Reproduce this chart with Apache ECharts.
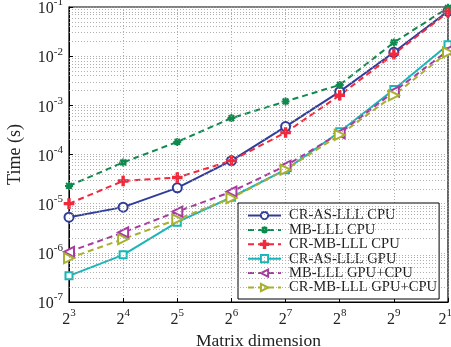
<!DOCTYPE html>
<html>
<head>
<meta charset="utf-8">
<script src="https://cdn.jsdelivr.net/npm/echarts@6/dist/echarts.min.js"></script>
<style>
  html, body { margin: 0; padding: 0; background: #fff; }
  #chart { width: 451px; height: 347px; }
</style>
</head>
<body>
<div id="chart"></div>
<script>
// matrix dimension (2^3 .. 2^10)
const dims = [8, 16, 32, 64, 128, 256, 512, 1024];

// time in seconds
const crAsCpu    = [5.3e-6, 8.5e-6, 2.1e-5, 7.5e-5, 3.7e-4, 1.9e-3, 1.2e-2, 8.2e-2];
const mbCpu      = [2.3e-5, 6.9e-5, 1.8e-4, 5.5e-4, 1.2e-3, 2.6e-3, 1.9e-2, 9.6e-2];
const crMbCpu    = [1.0e-5, 2.9e-5, 3.4e-5, 7.5e-5, 2.8e-4, 1.6e-3, 1.1e-2, 7.8e-2];
const crAsGpu    = [3.4e-7, 9.1e-7, 4.2e-6, 1.35e-5, 4.9e-5, 2.9e-4, 2.1e-3, 1.7e-2];
const mbGpuCpu   = [1.05e-6, 2.6e-6, 6.9e-6, 1.75e-5, 5.9e-5, 2.7e-4, 1.9e-3, 1.3e-2];
const crMbGpuCpu = [7.8e-7, 1.9e-6, 4.8e-6, 1.3e-5, 4.9e-5, 2.5e-4, 1.6e-3, 1.2e-2];

const seriesNames = [
  'CR-AS-LLL CPU', 'MB-LLL CPU', 'CR-MB-LLL CPU',
  'CR-AS-LLL GPU', 'MB-LLL GPU+CPU', 'CR-MB-LLL GPU+CPU'
];

// minor log grid lines (2..9 x 10^k)
const minorDecades = [-7, -6, -5, -4, -3, -2];
const minorSteps = [2, 3, 4, 5, 6, 7, 8, 9];

const FONT = '"Liberation Serif", "DejaVu Serif", serif';

const plusPath = 'path://M-1,-5L1,-5L1,-1L5,-1L5,1L1,1L1,5L-1,5L-1,1L-5,1L-5,-1L-1,-1Z';
// stroked asterisk (matlab '*')
const starPath = 'path://M-5,0L5,0M0,-5L0,5M-3.6,-3.6L3.6,3.6M-3.6,3.6L3.6,-3.6';

function pairs(vals) {
  return vals.map((v, i) => [dims[i], v]);
}

const minorLines = [];
minorDecades.forEach(k => minorSteps.forEach(s => minorLines.push({ yAxis: s * Math.pow(10, k) })));

const dashed = [6, 4];

function mk(name, vals, color, lineType, symbol, size, extra) {
  return Object.assign({
    name: name,
    type: 'line',
    data: pairs(vals),
    symbol: symbol,
    symbolSize: size,
    color: color,
    lineStyle: { color: color, width: 2, type: lineType },
    itemStyle: { color: color, borderColor: color, borderWidth: 1.6 },
    emphasis: { disabled: true },
    animation: false
  }, extra || {});
}

const series = [
  mk(seriesNames[0], crAsCpu, '#2E3D9C', 'solid', 'emptyCircle', 9, {
    markLine: {
      silent: true,
      symbol: 'none',
      precision: 12,
      label: { show: false },
      animation: false,
      lineStyle: { color: '#9a9a9a', width: 0.8, type: [1, 2] },
      data: minorLines
    }
  }),
  mk(seriesNames[1], mbCpu, '#0E8A4C', dashed, starPath, 8, {
    itemStyle: { color: 'rgba(0,0,0,0)', borderColor: '#0E8A4C', borderWidth: 2 }
  }),
  mk(seriesNames[2], crMbCpu, '#F2283C', dashed, plusPath, 9),
  mk(seriesNames[3], crAsGpu, '#18B6B8', 'solid', 'emptyRect', 7),
  mk(seriesNames[4], mbGpuCpu, '#A83AA0', dashed, 'emptyTriangle', 10, { symbolRotate: 90, itemStyle: { color: '#A83AA0', borderColor: '#A83AA0', borderWidth: 2.2 } }),
  mk(seriesNames[5], crMbGpuCpu, '#A8B12E', dashed, 'emptyTriangle', 10, { symbolRotate: -90, itemStyle: { color: '#A8B12E', borderColor: '#A8B12E', borderWidth: 2.2 } })
];

const chart = echarts.init(document.getElementById('chart'), null, { renderer: 'canvas' });
chart.setOption({
  backgroundColor: '#fff',
  animation: false,
  textStyle: { fontFamily: FONT },
  grid: {
    left: 69, right: 3, top: 7, bottom: 45,
    show: true, borderColor: '#000', borderWidth: 1.2,
    outerBoundsMode: 'none'
  },
  legend: {
    orient: 'vertical',
    left: 238, top: 203,
    padding: [5, 2, 4, 9],
    itemWidth: 33, itemHeight: 9, itemGap: -0.6,
    backgroundColor: '#fff',
    borderColor: '#000', borderWidth: 1,
    borderRadius: 0,
    textStyle: { fontFamily: FONT, fontSize: 14.6, color: '#222', lineHeight: 13, padding: [0, 0, 0, 3] },
    data: seriesNames
  },
  xAxis: {
    type: 'log', logBase: 2, min: 8, max: 1024,
    name: 'Matrix dimension', nameLocation: 'middle', nameGap: 29,
    nameTextStyle: { fontFamily: FONT, fontSize: 17.5, color: '#222' },
    axisLine: { show: true, lineStyle: { color: '#000' } },
    axisTick: { show: true, inside: true, length: 4, lineStyle: { color: '#000' } },
    splitLine: { show: true, lineStyle: { color: '#9a9a9a', width: 0.8, type: [1, 2] } },
    axisLabel: {
      margin: 6,
      formatter: v => '{b|2}{s|' + Math.round(Math.log2(v)) + '}',
      rich: {
        b: { fontFamily: FONT, fontSize: 16, color: '#222', lineHeight: 20, verticalAlign: 'bottom' },
        s: { fontFamily: FONT, fontSize: 11, color: '#222', lineHeight: 20, verticalAlign: 'top' }
      }
    }
  },
  yAxis: {
    type: 'log', logBase: 10, min: 1e-7, max: 1e-1,
    name: 'Time (s)', nameLocation: 'middle', nameGap: 45,
    nameTextStyle: { fontFamily: FONT, fontSize: 18, color: '#222' },
    axisLine: { show: true, lineStyle: { color: '#000' } },
    axisTick: { show: true, inside: true, length: 4, lineStyle: { color: '#000' } },
    splitLine: { show: true, lineStyle: { color: '#9a9a9a', width: 0.8, type: [1, 2] } },
    axisLabel: {
      margin: 6,
      formatter: v => '{b|10}{s|' + Math.round(Math.log10(v)) + '}',
      rich: {
        b: { fontFamily: FONT, fontSize: 16, color: '#222', lineHeight: 20, verticalAlign: 'bottom' },
        s: { fontFamily: FONT, fontSize: 11, color: '#222', lineHeight: 20, verticalAlign: 'top' }
      }
    }
  },
  series: series
});
</script>
</body>
</html>
